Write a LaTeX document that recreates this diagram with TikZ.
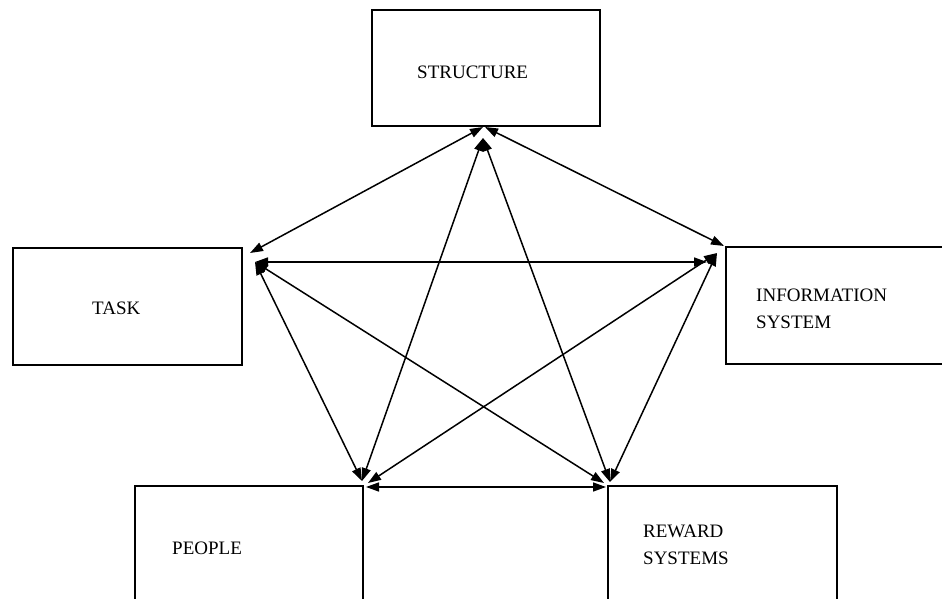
\documentclass[tikz,border=0pt]{standalone}
\usepackage{fontspec}
\setmainfont{Liberation Serif}
\usetikzlibrary{arrows.meta}
\begin{document}
\begin{tikzpicture}[x=1pt,y=-1pt,
  boxline/.style={draw=black,line width=1.7pt},
  lbl/.style={anchor=west,inner sep=0pt,font=\fontsize{19}{27}\selectfont,align=left},
  link/.style={line width=1.5pt,{Triangle[length=13pt,width=9pt]}-{Triangle[length=13pt,width=9pt]}}]
\clip (0,0) rectangle (942,599);
\fill[white] (0,0) rectangle (942,599);
% boxes
\draw[boxline] (372,10) rectangle (600,126);
\draw[boxline] (13,248) rectangle (242,365);
\draw[boxline] (726,247) rectangle (980,364);
\draw[boxline] (135,486) rectangle (363,640);
\draw[boxline] (608,486) rectangle (837,640);
% labels
\node[lbl] (structure) at (417,72) {STRUCTURE};
\node[lbl] (task) at (92,308) {TASK};
\node[lbl] (info) at (756,308.5) {INFORMATION\\SYSTEM};
\node[lbl] (people) at (172,548) {PEOPLE};
\node[lbl] (reward) at (643,545) {REWARD\\SYSTEMS};
% arrow end points
\coordinate (sA) at (483,127);
\coordinate (sB) at (485,127);
\coordinate (sC) at (483,138);
\coordinate (tA) at (250,253);
\coordinate (tB) at (255,262);
\coordinate (iA) at (724,246);
\coordinate (iB) at (707,262);
\coordinate (iC) at (717,253);
\coordinate (pA) at (362,481);
\coordinate (pB) at (368,483);
\coordinate (pC) at (366,487);
\coordinate (rA) at (610,482);
\coordinate (rB) at (604,483);
\coordinate (rC) at (606,487);
% connectors
\draw[link] (sA) -- (tA);
\draw[link] (sB) -- (iA);
\draw[link] (sC) -- (pA);
\draw[link] (sC) -- (rA);
\draw[link] (tB) -- (iB);
\draw[link] (tB) -- (pA);
\draw[link] (tB) -- (rB);
\draw[link] (iC) -- (pB);
\draw[link] (iC) -- (rA);
\draw[link] (pC) -- (rC);
\end{tikzpicture}
\end{document}
